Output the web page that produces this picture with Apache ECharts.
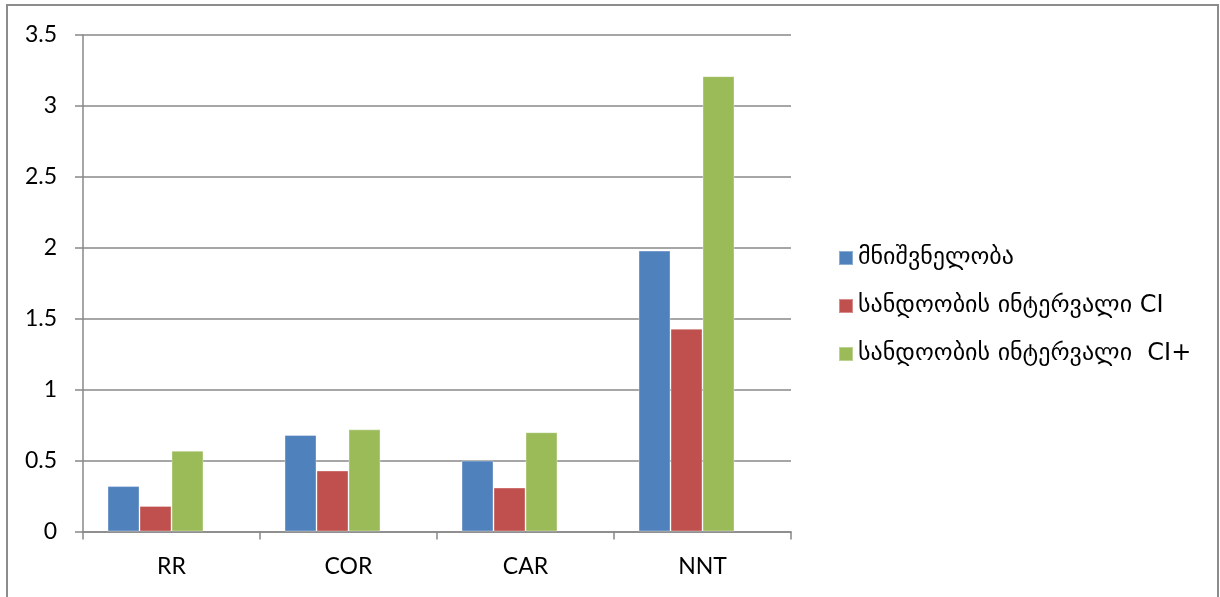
<!DOCTYPE html>
<html>
<head>
<meta charset="utf-8">
<script src="https://cdn.jsdelivr.net/npm/echarts@6/dist/echarts.min.js"></script>
<style>
  html, body { margin: 0; padding: 0; background: #fff; }
  #chart { width: 1220px; height: 597px; }
</style>
</head>
<body>
<div id="chart"></div>
<script>
// Categories along the x axis
const categories = ['RR', 'COR', 'CAR', 'NNT'];

// Series names (Georgian)
const seriesNames = [
  'მნიშვნელობა',
  'სანდოობის ინტერვალი CI',
  'სანდოობის ინტერვალი  CI+'
];

// Values per series, one entry per category
const valueMain = [0.32, 0.68, 0.50, 1.98];
const valueCILow = [0.18, 0.43, 0.31, 1.43];
const valueCIHigh = [0.57, 0.72, 0.70, 3.21];

// A fourth slot in each group that holds no data (keeps the three bars left of centre)
const valueEmpty = [null, null, null, null];

// Y axis range
const yMin = 0;
const yMax = 3.5;
const yStep = 0.5;

const colors = ['#4F81BD', '#C0504D', '#9BBB59'];
const seriesValues = [valueMain, valueCILow, valueCIHigh];

const chart = echarts.init(document.getElementById('chart'), null, { renderer: 'canvas' });

const axisFont = 'Lato, "Liberation Sans", sans-serif';
const lineColor = '#888888';

const barSeries = seriesNames.map((name, i) => ({
  name: name,
  type: 'bar',
  data: seriesValues[i],
  barGap: '0%',
  barCategoryGap: '27.7%',
  itemStyle: { color: colors[i], borderColor: 'rgba(255,255,255,0.35)', borderWidth: 1 }
}));
barSeries.push({
  name: 'empty',
  type: 'bar',
  data: valueEmpty,
  barGap: '0%',
  barCategoryGap: '27.7%',
  silent: true
});

chart.setOption({
  animation: false,
  backgroundColor: '#ffffff',
  color: colors,
  graphic: [{
    type: 'rect',
    shape: { x: 7, y: 5, width: 1211, height: 620 },
    style: { fill: 'none', stroke: '#8c8c8c', lineWidth: 2 },
    silent: true,
    z: -1
  }],
  grid: {
    left: 83,
    right: 429,
    top: 35,
    bottom: 65.5,
    containLabel: false
  },
  legend: {
    orient: 'vertical',
    left: 833,
    top: 241,
    itemWidth: 14,
    itemHeight: 14,
    itemGap: 24,
    icon: 'rect',
    textStyle: {
      fontFamily: '"DejaVu Sans", sans-serif',
      fontSize: 24,
      color: '#000',
      lineHeight: 24
    },
    data: seriesNames
  },
  xAxis: {
    type: 'category',
    data: categories,
    axisLine: { show: true, lineStyle: { color: lineColor, width: 1.5 } },
    axisTick: { show: true, alignWithLabel: false, length: 8, lineStyle: { color: lineColor, width: 1.5 } },
    axisLabel: { color: '#000', fontFamily: axisFont, fontSize: 23, margin: 24 },
    splitLine: { show: false }
  },
  yAxis: {
    type: 'value',
    min: yMin,
    max: yMax,
    interval: yStep,
    axisLine: { show: true, lineStyle: { color: lineColor, width: 1.5 } },
    axisTick: { show: true, length: 8, lineStyle: { color: lineColor, width: 1.5 } },
    axisLabel: { color: '#000', fontFamily: axisFont, fontSize: 23, margin: 26 },
    splitLine: { show: true, lineStyle: { color: lineColor, width: 1.5 } }
  },
  series: barSeries
});
</script>
</body>
</html>
